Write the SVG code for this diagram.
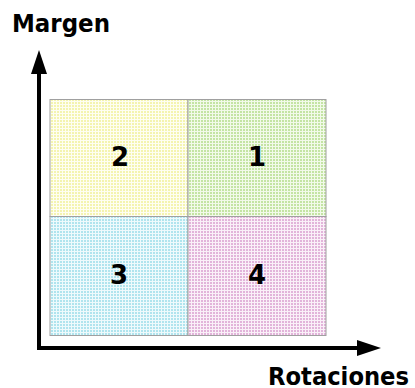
<svg xmlns="http://www.w3.org/2000/svg" width="415" height="388" viewBox="0 0 415 388">
<style>
.lbl{font-family:"DejaVu Sans",Verdana,sans-serif;font-weight:bold;fill:#000}
.axis{font-size:25px}
.num{font-size:26px;text-anchor:middle}
.cell{stroke:#a0a0a0;stroke-width:1}
.ax{stroke:#000;stroke-width:4;fill:none}
</style>
<defs>
<pattern id="pY" width="3" height="3" patternUnits="userSpaceOnUse"><rect width="3" height="3" fill="#fefef2"/><rect width="2" height="2" fill="#f4f4b0"/></pattern>
<pattern id="pG" width="3" height="3" patternUnits="userSpaceOnUse"><rect width="3" height="3" fill="#f2faea"/><rect width="2" height="2" fill="#c4e4a4"/></pattern>
<pattern id="pC" width="3" height="3" patternUnits="userSpaceOnUse"><rect width="3" height="3" fill="#eefafc"/><rect width="2" height="2" fill="#b0e4ee"/></pattern>
<pattern id="pM" width="3" height="3" patternUnits="userSpaceOnUse"><rect width="3" height="3" fill="#faf0f8"/><rect width="2" height="2" fill="#e2b4da"/></pattern>
<marker id="ah" markerWidth="6" markerHeight="4" refX="0" refY="2" orient="auto" markerUnits="strokeWidth"><path d="M0,0 L6,2 L0,4 Z" fill="#000"/></marker>
</defs>
<g id="q2"><rect class="cell" x="50" y="99.5" width="138" height="117" fill="url(#pY)"/><text class="lbl num" x="120" y="166">2</text></g>
<g id="q1"><rect class="cell" x="188" y="99.5" width="138" height="117" fill="url(#pG)"/><text class="lbl num" x="257" y="166">1</text></g>
<g id="q3"><rect class="cell" x="50" y="216.5" width="138" height="119" fill="url(#pC)"/><text class="lbl num" x="119" y="284">3</text></g>
<g id="q4"><rect class="cell" x="188" y="216.5" width="138" height="119" fill="url(#pM)"/><text class="lbl num" x="257" y="284">4</text></g>
<g id="connectors">
<path class="ax" d="M39,348 V74" marker-end="url(#ah)"/>
<path class="ax" d="M37,348 H357" marker-end="url(#ah)"/>
</g>
<g id="yaxis-label"><text class="lbl axis" x="12" y="32" textLength="98" lengthAdjust="spacingAndGlyphs">Margen</text></g>
<g id="xaxis-label"><text class="lbl axis" x="268" y="385" textLength="141" lengthAdjust="spacingAndGlyphs">Rotaciones</text></g>
</svg>
